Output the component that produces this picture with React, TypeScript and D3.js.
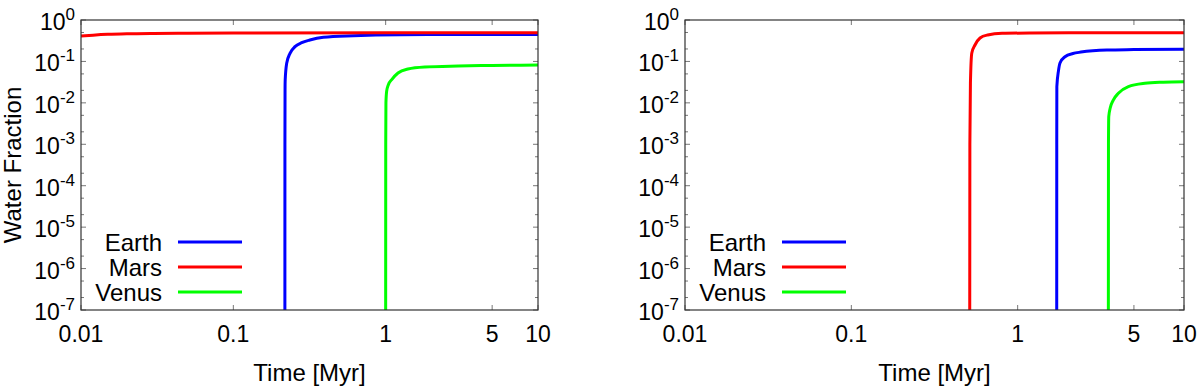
import React from 'react';
import * as d3 from 'd3';

// time [Myr], water fraction
const earthLeft: [number, number][] = [
  [0.218, 1e-7], [0.2181, 1e-3], [0.2185, 0.02], [0.219, 0.0356], [0.224, 0.09], [0.2355, 0.157],
  [0.254, 0.227], [0.281, 0.283], [0.318, 0.329], [0.39, 0.382], [0.614, 0.418], [1.24, 0.442],
  [3, 0.445], [10, 0.447],
];
const marsLeft: [number, number][] = [
  [0.01, 0.41], [0.012, 0.43], [0.015, 0.45], [0.02, 0.465], [0.03, 0.475], [0.05, 0.48],
  [0.1, 0.485], [1, 0.49], [10, 0.49],
];
const venusLeft: [number, number][] = [
  [1.0, 1e-7], [1.001, 1e-3], [1.004, 0.01], [1.015, 0.019], [1.04, 0.027], [1.1, 0.037],
  [1.205, 0.0526], [1.4, 0.0656], [1.81, 0.0734], [2.99, 0.0776], [5, 0.08], [10, 0.082],
];

const earthRight: [number, number][] = [
  [1.717, 1e-7], [1.718, 1e-3], [1.72, 0.0246], [1.76, 0.06], [1.797, 0.0917], [1.926, 0.13],
  [2.15, 0.155], [2.4, 0.168], [3.44, 0.189], [5, 0.193], [10, 0.197],
];
const marsRight: [number, number][] = [
  [0.515, 1e-7], [0.516, 1e-3], [0.52, 0.03], [0.53, 0.16], [0.554, 0.249], [0.594, 0.368],
  [0.66, 0.435], [0.806, 0.477], [1.2, 0.485], [3, 0.49], [10, 0.49],
];
const venusRight: [number, number][] = [
  [3.51, 1e-7], [3.515, 1e-3], [3.53, 0.0047], [3.6, 0.0075], [3.75, 0.0115], [4.03, 0.017],
  [4.63, 0.0246], [5.82, 0.0296], [7.5, 0.0315], [10, 0.0324],
];

const xTicks = [0.01, 0.1, 1, 5, 10];
const xTickLabels = ['0.01', '0.1', '1', '5', '10'];
const yExponents = [0, -1, -2, -3, -4, -5, -6, -7];
const legendNames = ['Earth', 'Mars', 'Venus'];
const colors = ['#0000ff', '#ff0000', '#00ff00'];

const FONT = '"Liberation Sans", Arial, Helvetica, sans-serif';
const top = 20;
const bottom = 310;

function Panel({ left, right, series, yLabel }: {
  left: number; right: number; series: [number, number][][]; yLabel: boolean;
}) {
  const x = d3.scaleLog().domain([0.01, 10]).range([left, right]);
  const y = d3.scaleLog().domain([1e-7, 1]).range([bottom, top]);
  const line = d3.line<[number, number]>()
    .x(d => x(d[0]))
    .y(d => y(d[1]))
    .curve(d3.curveMonotoneX);

  const minor: number[] = [];
  yExponents.slice(1).forEach(e => {
    minor.push(2 * Math.pow(10, e), 5 * Math.pow(10, e));
  });

  return (
    <g>
      <defs>
        <clipPath id={`clip${left}`}>
          <rect x={left} y={top} width={right - left} height={bottom - top} />
        </clipPath>
      </defs>
      {xTicks.map((t, i) => (
        <g key={'xt' + i}>
          <line x1={x(t)} x2={x(t)} y1={bottom} y2={bottom - 5} stroke="#777" />
          <line x1={x(t)} x2={x(t)} y1={top} y2={top + 5} stroke="#777" />
          <text x={x(t)} y={342} textAnchor="middle" fontSize={23} fontFamily={FONT}>{xTickLabels[i]}</text>
        </g>
      ))}
      {yExponents.map(e => {
        const yy = y(Math.pow(10, e));
        return (
          <g key={'yt' + e}>
            <line x1={left} x2={left + 5} y1={yy} y2={yy} stroke="#777" />
            <line x1={right} x2={right - 5} y1={yy} y2={yy} stroke="#777" />
            <text x={left - 6} y={yy + 10} textAnchor="end" fontSize={23} fontFamily={FONT}>
              10<tspan dy={-10} fontSize={17}>{String(e)}</tspan>
            </text>
          </g>
        );
      })}
      {minor.map((v, i) => (
        <g key={'ym' + i}>
          <line x1={left} x2={left + 3} y1={y(v)} y2={y(v)} stroke="#777" />
          <line x1={right} x2={right - 3} y1={y(v)} y2={y(v)} stroke="#777" />
        </g>
      ))}
      <g clipPath={`url(#clip${left})`}>
        {series.map((s, i) => (
          <path key={'s' + i} d={line(s) || ''} fill="none" stroke={colors[i]} strokeWidth={3} />
        ))}
      </g>
      <rect x={left} y={top} width={right - left} height={bottom - top} fill="none" stroke="#333" strokeWidth={1.2} />
      {legendNames.map((n, i) => (
        <g key={'lg' + i}>
          <text x={left + 81} y={251 + i * 25} textAnchor="end" fontSize={24} fontFamily={FONT}>{n}</text>
          <line x1={left + 97} x2={left + 161} y1={242 + i * 25} y2={242 + i * 25} stroke={colors[i]} strokeWidth={3} />
        </g>
      ))}
      <text x={(left + right) / 2} y={381} textAnchor="middle" fontSize={24} fontFamily={FONT}>Time [Myr]</text>
      {yLabel && (
        <text transform={`translate(21,${(top + bottom) / 2}) rotate(-90)`} textAnchor="middle" fontSize={24} fontFamily={FONT}>
          Water Fraction
        </text>
      )}
    </g>
  );
}

export default function App() {
  return (
    <svg width={1200} height={392} style={{ position: 'absolute', left: 0, top: 0, background: '#fff' }}>
      <Panel left={81} right={538} series={[earthLeft, marsLeft, venusLeft]} yLabel={true} />
      <Panel left={685} right={1184} series={[earthRight, marsRight, venusRight]} yLabel={false} />
    </svg>
  );
}
